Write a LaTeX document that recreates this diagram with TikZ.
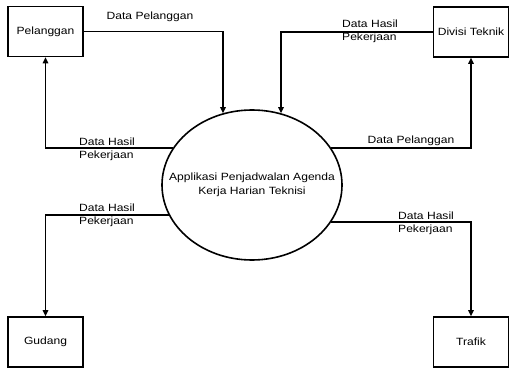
\documentclass[tikz,border=0pt]{standalone}
\usepackage{fontspec}
\setmainfont{Liberation Sans}[FakeStretch=1.15]
\usetikzlibrary{shapes.geometric,arrows.meta}

\tikzset{
  entity/.style={draw, line width=1.6pt, minimum width=75pt, minimum height=50pt,
                 inner sep=0pt, font=\fontsize{10.5}{13}\selectfont},
  process/.style={draw, ellipse, line width=1.6pt, minimum width=180pt, minimum height=150pt,
                  inner sep=0pt},
  ptext/.style={inner sep=0pt, align=center, font=\fontsize{10.5}{14}\selectfont},
  flow/.style={line width=1.6pt, -{Triangle[length=6pt,width=5.5pt]}},
  lbl/.style={inner sep=0pt, align=left, font=\fontsize{10.5}{13}\selectfont}
}

\begin{document}
\begin{tikzpicture}[x=1pt, y=-1pt]
  \useasboundingbox (0,0) rectangle (509,369);

  % external entities
  \node[entity] (pel) at (45.5,31.5)  {Pelanggan};
  \node[entity] (div) at (471,32)     {Divisi Teknik};
  \node[entity] (gud) at (45.5,342)   {Gudang};
  \node[entity] (tra) at (471,342)    {Trafik};

  % central process: fixed-size ellipse with its caption on top
  \node[process] (app) at (252,185) {};
  \node[ptext] (apptxt) at (app.center) {Applikasi Penjadwalan Agenda\\Kerja Harian Teknisi};

  % data flows
  \draw[flow] (pel.east) -| (app.112);
  \draw[flow] (app.155) -| (pel.south);
  \draw[flow] (div.west) -| (app.68);
  \draw[flow] (app.25) -| (div.south);
  \draw[flow] (app.200) -| (gud.north);
  \draw[flow] (app.335) -| (tra.north);

  % flow labels
  \node[lbl] (l1) at (150,17) {Data Pelanggan};
  \node[lbl, anchor=west] (l2) at (79,149) {Data Hasil\\Pekerjaan};
  \node[lbl, anchor=west] (l3) at (342,31.5) {Data Hasil\\Pekerjaan};
  \node[lbl] (l4) at (411,141) {Data Pelanggan};
  \node[lbl, anchor=west] (l5) at (79,215.5) {Data Hasil\\Pekerjaan};
  \node[lbl, anchor=west] (l6) at (398,223) {Data Hasil\\Pekerjaan};
\end{tikzpicture}
\end{document}
